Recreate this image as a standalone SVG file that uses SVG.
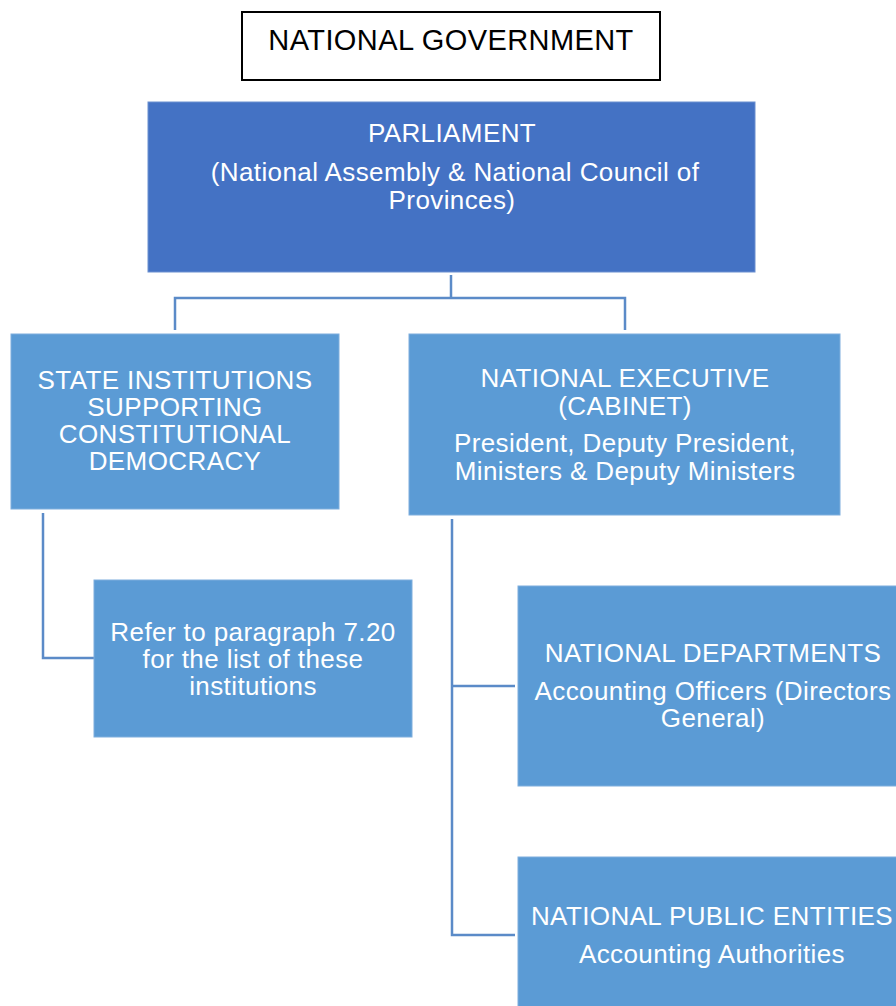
<svg xmlns="http://www.w3.org/2000/svg" width="896" height="1006" viewBox="0 0 896 1006">
<style>
text{font-family:"Liberation Sans",Arial,sans-serif;font-size:26px;letter-spacing:0.4px;fill:#fff;text-anchor:middle}
.t{fill:#000;font-size:29px;letter-spacing:0.4px}
.b{fill:#5B9BD5;stroke:#7EAEDD;stroke-width:1}
.p{fill:#4472C4;stroke:#6A8FD0;stroke-width:1}
.c{fill:none;stroke:#5B8BC8;stroke-width:2.5}
</style>
<rect width="896" height="1006" fill="#fff"/>
<g id="connectors">
<path class="c" d="M451 275V298M175 330V298H625V330"/>
<path class="c" d="M43 513V658H94"/>
<path class="c" d="M452 519V935H515M452 686H515"/>
</g>
<g id="title">
<rect x="242" y="12" width="418" height="68" fill="#fff" stroke="#000" stroke-width="2"/>
<text class="t" x="451" y="50">NATIONAL GOVERNMENT</text>
</g>
<g id="parliament">
<rect class="p" x="148" y="102" width="607" height="170"/>
<text x="452" y="142">PARLIAMENT</text>
<text x="455" y="181">(National Assembly &amp; National Council of</text>
<text x="452" y="209">Provinces)</text>
</g>
<g id="state">
<rect class="b" x="11" y="334" width="328" height="175"/>
<text x="175" y="389">STATE INSTITUTIONS</text>
<text x="175" y="416">SUPPORTING</text>
<text x="175" y="443">CONSTITUTIONAL</text>
<text x="175" y="470">DEMOCRACY</text>
</g>
<g id="executive">
<rect class="b" x="409" y="334" width="431" height="181"/>
<text x="625" y="387">NATIONAL EXECUTIVE</text>
<text x="625" y="415">(CABINET)</text>
<text x="625" y="452">President, Deputy President,</text>
<text x="625" y="480">Ministers &amp; Deputy Ministers</text>
</g>
<g id="refer">
<rect class="b" x="94" y="580" width="318" height="157"/>
<text x="253" y="641">Refer to paragraph 7.20</text>
<text x="253" y="668">for the list of these</text>
<text x="253" y="695">institutions</text>
</g>
<g id="departments">
<rect class="b" x="518" y="586" width="390" height="200"/>
<text x="713" y="662">NATIONAL DEPARTMENTS</text>
<text x="713" y="700">Accounting Officers (Directors</text>
<text x="713" y="727">General)</text>
</g>
<g id="entities">
<rect class="b" x="518" y="857" width="390" height="160"/>
<text x="712" y="925">NATIONAL PUBLIC ENTITIES</text>
<text x="712" y="963">Accounting Authorities</text>
</g>
</svg>
